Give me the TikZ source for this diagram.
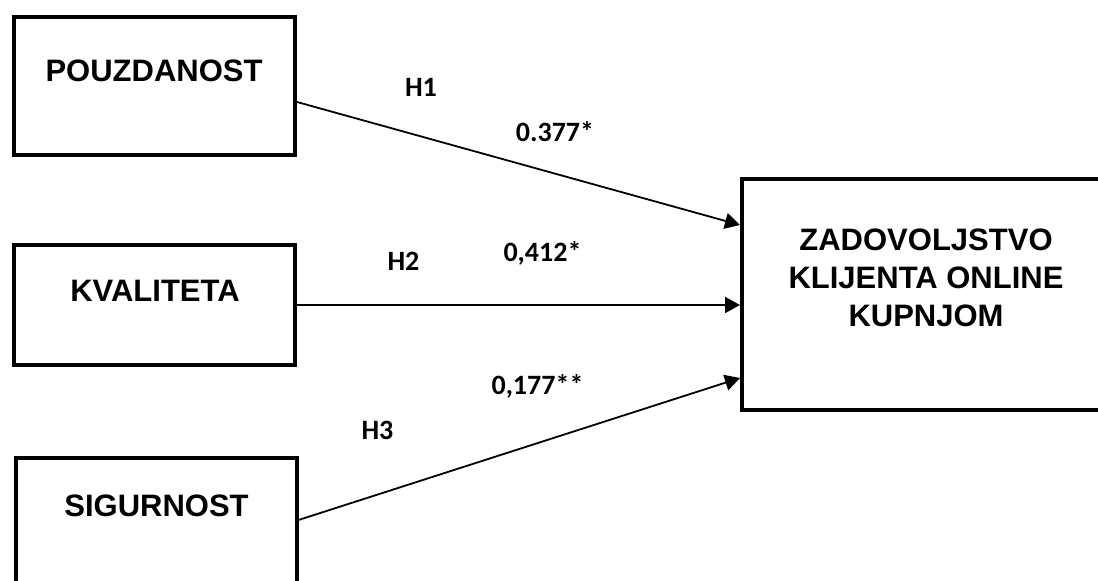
\documentclass[tikz,border=0pt]{standalone}
\usepackage{fontspec}
\setmainfont{Liberation Sans}
\newfontfamily\lblfont{Carlito}
\usetikzlibrary{arrows.meta}
\begin{document}
\begin{tikzpicture}[x=1pt,y=1pt,
  okvir/.style={draw,line width=4pt,minimum width=281pt,inner sep=0pt},
  naziv/.style={font=\fontsize{31}{38}\selectfont\bfseries,anchor=base},
  oznaka/.style={font=\lblfont\fontsize{28}{30}\selectfont\bfseries,anchor=base},
  veza/.style={line width=1.8pt,-{Triangle[length=15pt,width=16pt]}}]
\useasboundingbox (0,0) rectangle (1098,581);
\node[okvir,minimum height=138pt] (P) at (154.5,495){};
\node[naziv] at (154,499){POUZDANOST};
\node[okvir,minimum height=120pt] (K) at (154.5,276){};
\node[naziv] at (155,279){KVALITETA};
\node[okvir,minimum height=142pt] (S) at (156,52){};
\node[naziv] at (156.5,64){SIGURNOST};
\node[okvir,minimum width=372pt,minimum height=231pt] (Z) at (928,286.5){};
\node[font=\fontsize{31}{38}\selectfont\bfseries,align=center] at (926,303){ZADOVOLJSTVO\\KLIJENTA ONLINE\\KUPNJOM};

\node[oznaka] at (421,484){H1};	\node[oznaka] at (555,439){0.377*};
\node[oznaka] at (403.5,310){H2};	\node[oznaka] at (542.5,319){0,412*};
\node[oznaka] at (377.5,141){H3};	\node[oznaka] at (537.5,186){0,177**};

\draw[veza]([yshift=-16pt]P.east)--([yshift=69.5pt]Z.west);
\draw[veza](K.east)--([yshift=-10.5pt]Z.west);
\draw[veza]([yshift=9pt]S.east)--([yshift=-83.5pt]Z.west);

\end{tikzpicture}
\end{document}
